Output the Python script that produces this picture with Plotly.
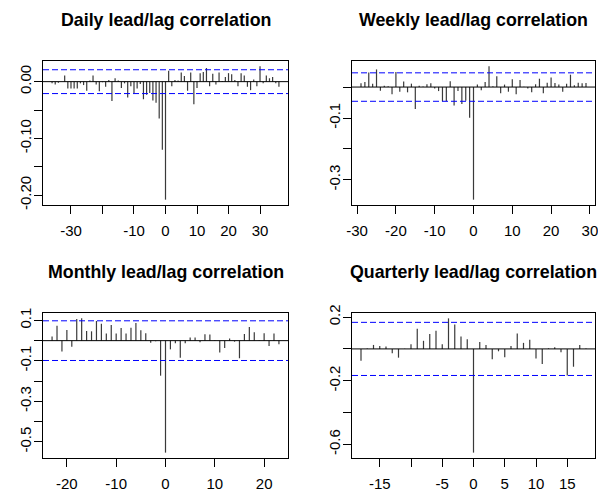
import plotly.graph_objects as go

# ---------------- data ----------------
daily_lags = list(range(-36, 37))
daily_acf = [
    -0.003, -0.005, -0.002, 0.000, 0.011, -0.012, -0.012, -0.012, -0.012, -0.003,
    -0.006, -0.016, 0.002, 0.011, -0.005, -0.017, -0.001, -0.009, 0.003, -0.034,
    0.006, 0.002, -0.011, -0.003, -0.028, -0.008, -0.020, -0.012, -0.004, -0.031,
    -0.023, -0.020, -0.033, -0.037, -0.065, -0.120, -0.208,
    0.019, -0.008, 0.003, 0.002, 0.016, 0.010, -0.016, 0.016, -0.040, -0.011,
    0.015, 0.017, 0.024, -0.008, 0.014, -0.005, 0.016, 0.001, 0.008, 0.015,
    0.013, 0.003, -0.008, 0.015, 0.011, -0.009, -0.015, 0.004, -0.008, 0.027,
    -0.003, 0.011, 0.006, 0.008, -0.003, -0.009,
]
daily_clim = 0.021

weekly_lags = list(range(-29, 30))
weekly_acf = [
    0.012, 0.016, 0.047, 0.011, 0.057, -0.012, 0.004, 0.003, -0.023, 0.049,
    -0.015, 0.018, -0.017, 0.011, -0.071, 0.004, 0.002, 0.009, 0.012, -0.005,
    -0.013, -0.046, -0.046, 0.019, -0.060, -0.013, -0.055, -0.044, -0.099,
    -0.364,
    0.008, -0.010, 0.016, 0.067, 0.003, 0.035, -0.020, 0.008, -0.015, 0.025,
    -0.023, 0.023, 0.001, -0.005, -0.017, 0.009, 0.027, -0.020, 0.014, 0.031,
    0.013, 0.008, -0.015, 0.011, 0.040, 0.006, 0.014, 0.012, 0.013,
]
weekly_clim = 0.046

monthly_lags = list(range(-23, 24))
monthly_acf = [
    0.021, 0.074, -0.054, 0.053, -0.030, 0.107, 0.110, 0.048, 0.046, 0.097,
    0.084, 0.035, 0.077, 0.035, 0.062, 0.035, 0.064, 0.087, 0.051, 0.036,
    -0.010, -0.003, -0.173,
    -0.553,
    -0.043, -0.013, -0.084, -0.013, 0.016, 0.016, -0.008, 0.031, 0.030, 0.002,
    -0.059, -0.036, 0.010, -0.005, -0.087, 0.033, 0.067, 0.041, 0.002, 0.036,
    -0.026, 0.035, -0.018,
]
monthly_clim = 0.098

quarterly_lags = list(range(-18, 19))
quarterly_acf = [
    -0.074, 0.002, 0.025, 0.019, 0.015, -0.027, -0.055, 0.001, 0.030, 0.127,
    0.051, 0.093, 0.114, 0.030, 0.192, 0.154, 0.078, 0.061,
    -0.652,
    0.044, 0.025, -0.065, -0.015, -0.053, 0.019, 0.097, 0.038, 0.057, -0.061,
    -0.095, 0.004, 0.010, -0.021, -0.167, -0.112, 0.025, 0.002,
]
quarterly_clim = 0.167

titles = ["Daily lead/lag correlation", "Weekly lead/lag correlation",
          "Monthly lead/lag correlation", "Quarterly lead/lag correlation"]

# tick values / labels
daily_xticks = [-30, -20, -10, 0, 10, 20, 30]
daily_xlabels = ["-30", "", "-10", "0", "10", "20", "30"]
daily_yticks = [0.0, -0.05, -0.10, -0.15, -0.20]
daily_ylabels = ["0.00", "", "-0.10", "", "-0.20"]

weekly_xticks = [-30, -20, -10, 0, 10, 20, 30]
weekly_xlabels = ["-30", "-20", "-10", "0", "10", "20", "30"]
weekly_yticks = [0.0, -0.1, -0.2, -0.3]
weekly_ylabels = ["", "-0.1", "", "-0.3"]

monthly_xticks = [-20, -10, 0, 10, 20]
monthly_xlabels = ["-20", "-10", "0", "10", "20"]
monthly_yticks = [0.1, 0.0, -0.1, -0.2, -0.3, -0.4, -0.5]
monthly_ylabels = ["0.1", "", "-0.1", "", "-0.3", "", "-0.5"]

quarterly_xticks = [-15, -10, -5, 0, 5, 10, 15]
quarterly_xlabels = ["-15", "", "-5", "0", "5", "10", "15"]
quarterly_yticks = [0.2, 0.0, -0.2, -0.4, -0.6]
quarterly_ylabels = ["0.2", "", "-0.2", "", "-0.6"]

panels = [
    (daily_lags, daily_acf, daily_clim, daily_xticks, daily_xlabels, daily_yticks, daily_ylabels),
    (weekly_lags, weekly_acf, weekly_clim, weekly_xticks, weekly_xlabels, weekly_yticks, weekly_ylabels),
    (monthly_lags, monthly_acf, monthly_clim, monthly_xticks, monthly_xlabels, monthly_yticks, monthly_ylabels),
    (quarterly_lags, quarterly_acf, quarterly_clim, quarterly_xticks, quarterly_xlabels, quarterly_yticks, quarterly_ylabels),
]

# ---------------- layout geometry (pixels in the window) ----------------
W, H = 598, 493
boxes = [  # x0, x1, y0(top), y1(bottom)
    (43, 288, 61, 205),
    (352, 595, 61, 205),
    (43, 288, 313, 458),
    (352, 595, 313, 458),
]
title_y = [20, 20, 272, 272]
FONT = "Liberation Sans, Arial, sans-serif"


def rlim(vals, ext=0.04):
    lo, hi = min(vals), max(vals)
    d = (hi - lo) * ext
    return [lo - d, hi + d]


fig = go.Figure()
layout = dict(
    width=W, height=H, margin=dict(l=0, r=0, t=0, b=0, autoexpand=False),
    template="none",
    paper_bgcolor="white", plot_bgcolor="white", showlegend=False,
    font=dict(family=FONT, color="black", size=15),
)
annotations = []
shapes = []

for i, (lags, acf, clim, xt, xl, yt, yl) in enumerate(panels):
    n = i + 1
    xa = "x" if n == 1 else f"x{n}"
    ya = "y" if n == 1 else f"y{n}"
    x0, x1, top, bot = boxes[i]

    xs, ys = [], []
    for lag, v in zip(lags, acf):
        xs += [lag, lag, None]
        ys += [0, v, None]
    fig.add_trace(go.Scatter(x=xs, y=ys, mode="lines", xaxis=xa, yaxis=ya,
                             line=dict(color="#3a3a3a", width=1.2), hoverinfo="skip"))

    xr = rlim(lags)
    yr = rlim(list(acf) + [clim, -clim])
    axcommon = dict(showgrid=False, zeroline=False, showline=True, linecolor="black",
                    linewidth=1, mirror=True, ticks="outside", ticklen=8, tickwidth=1,
                    tickcolor="black", tickmode="array", automargin=False,
                    ticklabeloverflow="allow", fixedrange=True,
                    tickfont=dict(family=FONT, size=15, color="black"))
    layout[f"xaxis{'' if n == 1 else n}"] = dict(
        axcommon, domain=[x0 / W, x1 / W], range=xr, anchor=ya,
        tickvals=xt, ticktext=xl, ticklabelstandoff=4)
    layout[f"yaxis{'' if n == 1 else n}"] = dict(
        axcommon, domain=[1 - bot / H, 1 - top / H], range=yr, anchor=xa,
        tickvals=yt, ticktext=yl, tickangle=-90, ticklabelstandoff=-3)

    # zero line
    shapes.append(dict(type="line", xref=f"{xa} domain", yref=ya, x0=0, x1=1, y0=0, y1=0,
                       line=dict(color="black", width=1)))
    # confidence limits
    for c in (clim, -clim):
        shapes.append(dict(type="line", xref=f"{xa} domain", yref=ya, x0=0, x1=1, y0=c, y1=c,
                           line=dict(color="#0000ff", width=1, dash="6px,3px")))

    annotations.append(dict(text=f"<b>{titles[i]}</b>", xref="paper", yref="paper",
                            x=((x0 + x1) / 2) / W, y=1 - title_y[i] / H,
                            xanchor="center", yanchor="middle", showarrow=False,
                            font=dict(family=FONT, size=17.8, color="black")))

layout["annotations"] = annotations
layout["shapes"] = shapes

fig.update_layout(**layout)
# remove the default page margin so the figure fills the 598x493 window exactly
fig.write_html("out.html",
               config={"displayModeBar": False, "staticPlot": True},
               post_script="document.body.style.margin='0';document.body.style.overflow='hidden';")
